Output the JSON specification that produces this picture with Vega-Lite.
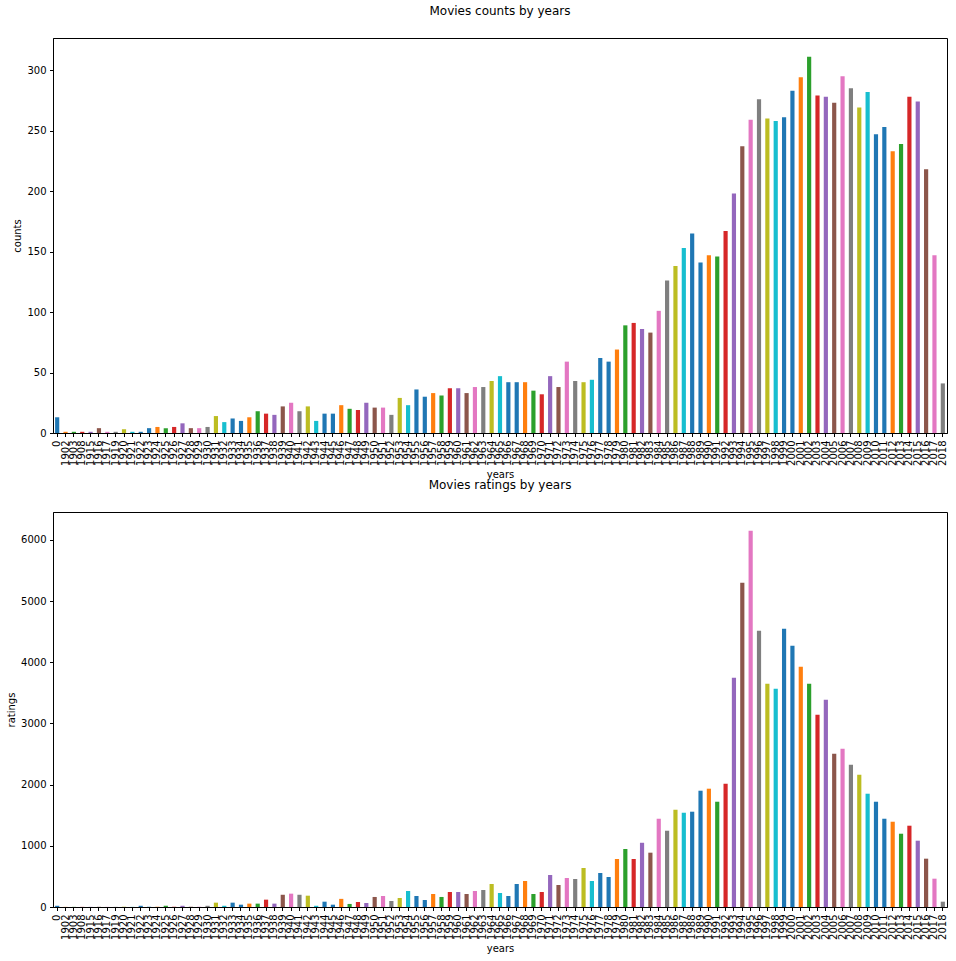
{
  "$schema": "https://vega.github.io/schema/vega-lite/v6.json",
  "background": "white",
  "padding": {"left": 6, "top": 4, "right": 8, "bottom": 5},
  "bounds": "flush",
  "spacing": 79,
  "data": {
    "values": [
      {"year": "0", "counts": 13, "ratings": 20},
      {"year": "1902", "counts": 1, "ratings": 2},
      {"year": "1903", "counts": 1, "ratings": 2},
      {"year": "1908", "counts": 1, "ratings": 2},
      {"year": "1915", "counts": 1, "ratings": 2},
      {"year": "1916", "counts": 4, "ratings": 3},
      {"year": "1917", "counts": 1, "ratings": 2},
      {"year": "1919", "counts": 1, "ratings": 2},
      {"year": "1920", "counts": 3, "ratings": 3},
      {"year": "1921", "counts": 1, "ratings": 2},
      {"year": "1922", "counts": 1, "ratings": 20},
      {"year": "1923", "counts": 4, "ratings": 4},
      {"year": "1924", "counts": 5, "ratings": 4},
      {"year": "1925", "counts": 4, "ratings": 20},
      {"year": "1926", "counts": 5, "ratings": 4},
      {"year": "1927", "counts": 8, "ratings": 20},
      {"year": "1928", "counts": 4, "ratings": 4},
      {"year": "1929", "counts": 4, "ratings": 4},
      {"year": "1930", "counts": 5, "ratings": 20},
      {"year": "1931", "counts": 14, "ratings": 71},
      {"year": "1932", "counts": 9, "ratings": 20},
      {"year": "1933", "counts": 12, "ratings": 71},
      {"year": "1934", "counts": 10, "ratings": 38},
      {"year": "1935", "counts": 13, "ratings": 55},
      {"year": "1936", "counts": 18, "ratings": 55},
      {"year": "1937", "counts": 16, "ratings": 120},
      {"year": "1938", "counts": 15, "ratings": 55},
      {"year": "1939", "counts": 22, "ratings": 200},
      {"year": "1940", "counts": 25, "ratings": 218},
      {"year": "1941", "counts": 18, "ratings": 200},
      {"year": "1942", "counts": 22, "ratings": 185},
      {"year": "1943", "counts": 10, "ratings": 20},
      {"year": "1944", "counts": 16, "ratings": 87},
      {"year": "1945", "counts": 16, "ratings": 38},
      {"year": "1946", "counts": 23, "ratings": 133},
      {"year": "1947", "counts": 20, "ratings": 50},
      {"year": "1948", "counts": 19, "ratings": 82},
      {"year": "1949", "counts": 25, "ratings": 65},
      {"year": "1950", "counts": 21, "ratings": 164},
      {"year": "1951", "counts": 21, "ratings": 180},
      {"year": "1952", "counts": 15, "ratings": 98},
      {"year": "1953", "counts": 29, "ratings": 147},
      {"year": "1954", "counts": 23, "ratings": 262},
      {"year": "1955", "counts": 36, "ratings": 180},
      {"year": "1956", "counts": 30, "ratings": 114},
      {"year": "1957", "counts": 33, "ratings": 213},
      {"year": "1958", "counts": 31, "ratings": 164},
      {"year": "1959", "counts": 37, "ratings": 245},
      {"year": "1960", "counts": 37, "ratings": 245},
      {"year": "1961", "counts": 33, "ratings": 213},
      {"year": "1962", "counts": 38, "ratings": 262},
      {"year": "1963", "counts": 38, "ratings": 278},
      {"year": "1964", "counts": 43, "ratings": 376},
      {"year": "1965", "counts": 47, "ratings": 229},
      {"year": "1966", "counts": 42, "ratings": 180},
      {"year": "1967", "counts": 42, "ratings": 376},
      {"year": "1968", "counts": 42, "ratings": 425},
      {"year": "1969", "counts": 35, "ratings": 213},
      {"year": "1970", "counts": 32, "ratings": 245},
      {"year": "1971", "counts": 47, "ratings": 523},
      {"year": "1972", "counts": 38, "ratings": 360},
      {"year": "1973", "counts": 59, "ratings": 474},
      {"year": "1974", "counts": 43, "ratings": 458},
      {"year": "1975", "counts": 42, "ratings": 638},
      {"year": "1976", "counts": 44, "ratings": 425},
      {"year": "1977", "counts": 62, "ratings": 556},
      {"year": "1978", "counts": 59, "ratings": 490},
      {"year": "1979", "counts": 69, "ratings": 785},
      {"year": "1980", "counts": 89, "ratings": 948},
      {"year": "1981", "counts": 91, "ratings": 785},
      {"year": "1982", "counts": 86, "ratings": 1050},
      {"year": "1983", "counts": 83, "ratings": 888},
      {"year": "1984", "counts": 101, "ratings": 1443},
      {"year": "1985", "counts": 126, "ratings": 1247},
      {"year": "1986", "counts": 138, "ratings": 1590},
      {"year": "1987", "counts": 153, "ratings": 1541},
      {"year": "1988", "counts": 165, "ratings": 1558},
      {"year": "1989", "counts": 141, "ratings": 1901},
      {"year": "1990", "counts": 147, "ratings": 1934},
      {"year": "1991", "counts": 146, "ratings": 1721},
      {"year": "1992", "counts": 167, "ratings": 2015},
      {"year": "1993", "counts": 198, "ratings": 3748},
      {"year": "1994", "counts": 237, "ratings": 5300},
      {"year": "1995", "counts": 259, "ratings": 6150},
      {"year": "1996", "counts": 276, "ratings": 4516},
      {"year": "1997", "counts": 260, "ratings": 3650},
      {"year": "1998", "counts": 258, "ratings": 3568},
      {"year": "1999", "counts": 261, "ratings": 4548},
      {"year": "2000", "counts": 283, "ratings": 4270},
      {"year": "2001", "counts": 294, "ratings": 3927},
      {"year": "2002", "counts": 311, "ratings": 3650},
      {"year": "2003", "counts": 279, "ratings": 3143},
      {"year": "2004", "counts": 278, "ratings": 3388},
      {"year": "2005", "counts": 273, "ratings": 2506},
      {"year": "2006", "counts": 295, "ratings": 2587},
      {"year": "2007", "counts": 285, "ratings": 2326},
      {"year": "2008", "counts": 269, "ratings": 2162},
      {"year": "2009", "counts": 282, "ratings": 1852},
      {"year": "2010", "counts": 247, "ratings": 1721},
      {"year": "2011", "counts": 253, "ratings": 1443},
      {"year": "2012", "counts": 233, "ratings": 1394},
      {"year": "2013", "counts": 239, "ratings": 1198},
      {"year": "2014", "counts": 278, "ratings": 1329},
      {"year": "2015", "counts": 274, "ratings": 1084},
      {"year": "2016", "counts": 218, "ratings": 790},
      {"year": "2017", "counts": 147, "ratings": 463},
      {"year": "2018", "counts": 41, "ratings": 87}
    ]
  },
  "vconcat": [
    {
      "width": 894,
      "height": 395,
      "title": {"text": "Movies counts by years", "offset": 20},
      "mark": {"type": "bar"},
      "encoding": {
        "x": {
          "field": "year", "type": "ordinal", "sort": null,
          "scale": {"paddingInner": 0.5, "paddingOuter": 0.25},
          "axis": {"title": "years", "labelAngle": -90}
        },
        "y": {
          "field": "counts", "type": "quantitative",
          "scale": {"domain": [0, 326.55], "nice": false, "zero": true},
          "axis": {"title": "counts", "format": "d", "values": [0, 50, 100, 150, 200, 250, 300]}
        },
        "color": {
          "field": "year", "type": "ordinal", "sort": null, "legend": null,
          "scale": {"range": ["#1f77b4", "#ff7f0e", "#2ca02c", "#d62728", "#9467bd", "#8c564b", "#e377c2", "#7f7f7f", "#bcbd22", "#17becf", "#1f77b4"]}
        }
      }
    },
    {
      "width": 894,
      "height": 395,
      "title": {"text": "Movies ratings by years", "offset": 20},
      "mark": {"type": "bar"},
      "encoding": {
        "x": {
          "field": "year", "type": "ordinal", "sort": null,
          "scale": {"paddingInner": 0.5, "paddingOuter": 0.25},
          "axis": {"title": "years", "labelAngle": -90}
        },
        "y": {
          "field": "ratings", "type": "quantitative",
          "scale": {"domain": [0, 6457.5], "nice": false, "zero": true},
          "axis": {"title": "ratings", "format": "d", "values": [0, 1000, 2000, 3000, 4000, 5000, 6000]}
        },
        "color": {
          "field": "year", "type": "ordinal", "sort": null, "legend": null,
          "scale": {"range": ["#1f77b4", "#ff7f0e", "#2ca02c", "#d62728", "#9467bd", "#8c564b", "#e377c2", "#7f7f7f", "#bcbd22", "#17becf", "#1f77b4"]}
        }
      }
    }
  ],
  "config": {
    "font": "DejaVu Sans",
    "view": {"stroke": "black", "strokeWidth": 1},
    "title": {"fontSize": 12, "fontWeight": "normal", "color": "black", "anchor": "middle", "font": "DejaVu Sans"},
    "axis": {
      "grid": false,
      "domainColor": "black",
      "domainWidth": 1,
      "tickColor": "black",
      "tickWidth": 1,
      "tickSize": 3.5,
      "labelPadding": 3.5,
      "labelFontSize": 10,
      "labelColor": "black",
      "labelFont": "DejaVu Sans",
      "titleFontSize": 10,
      "titleFontWeight": "normal",
      "titleColor": "black",
      "titleFont": "DejaVu Sans",
      "titlePadding": 4,
      "labelOverlap": false,
      "labelBound": false,
      "labelFlush": false
    },
    "axisX": {"labelAngle": -90}
  }
}
